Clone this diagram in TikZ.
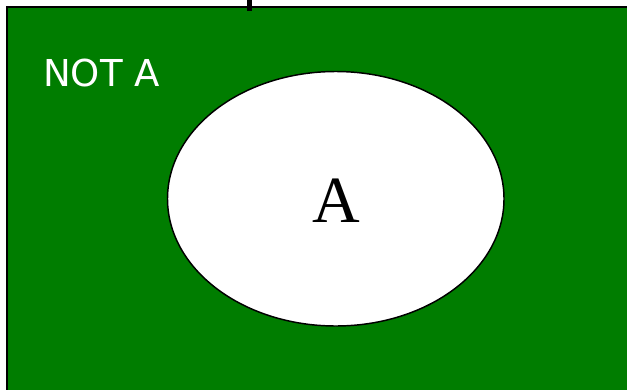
\documentclass[tikz,border=0pt]{standalone}
\usepackage{fontspec}
\newfontfamily\labelsans{DejaVu Sans}
\newfontfamily\labelserif{Liberation Serif}
\definecolor{setgreen}{HTML}{007D00}
\tikzset{
  universe/.style={fill=setgreen, draw=black, line width=1.5pt},
  setA/.style={fill=white, draw=black, line width=1.1pt},
  outlabel/.style={text=white, font=\labelsans\fontsize{27.8pt}{31pt}\selectfont, inner sep=0pt, anchor=base west},
  inlabel/.style={text=black, font=\labelserif\fontsize{49.5pt}{53pt}\selectfont, inner sep=0pt, anchor=base},
}
\begin{document}
\begin{tikzpicture}[x=0.75pt, y=-0.75pt]
\useasboundingbox (0,0) rectangle (627,389);
\clip (0,0) rectangle (627,389);
\draw[universe] (7.2,6.6) rectangle (650,410);
\draw[black, line width=3.75pt] (249.8,-2) -- (249.8,11.3);
\draw[setA] (335.75,198.75) ellipse [x radius=168.25, y radius=127.25];
\node[outlabel] (notA) at (43,86) {NOT A};
\node[inlabel] (A) at (336,222) {A};
\end{tikzpicture}
\end{document}
